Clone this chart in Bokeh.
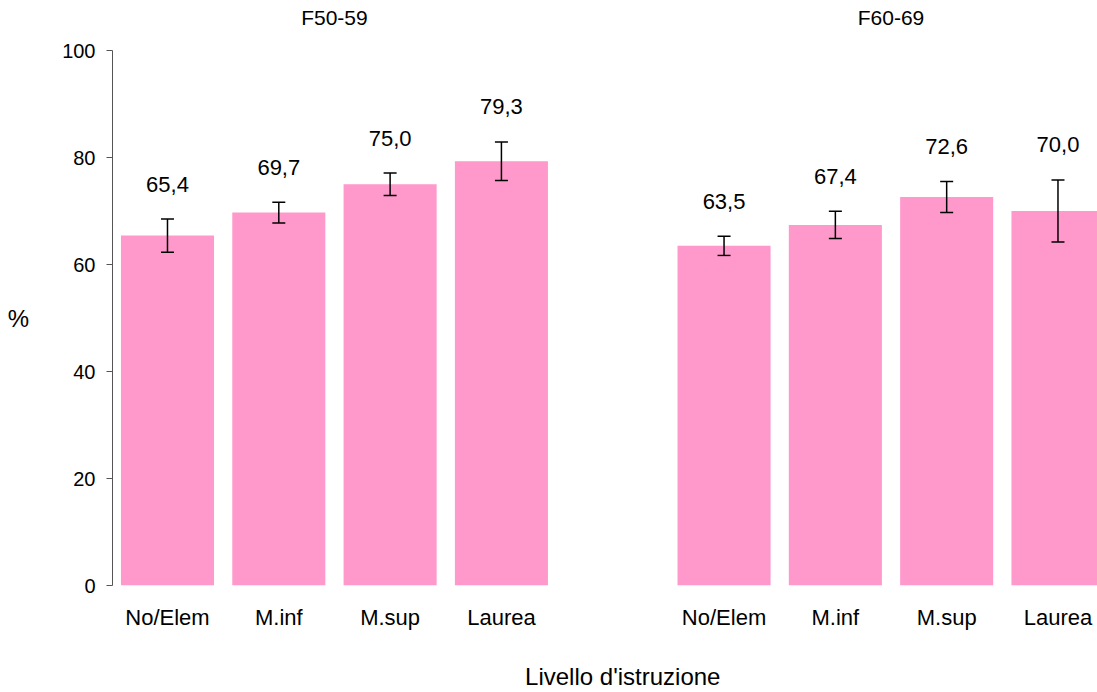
from bokeh.plotting import figure
from bokeh.models import (ColumnDataSource, Whisker, TeeHead, FixedTicker, Range1d,
                          LinearAxis)
from bokeh.core.properties import value
from bokeh.embed import file_html
from bokeh.resources import INLINE

# ---- data ----
groups = ["F50-59", "F60-69"]
categories = ["No/Elem", "M.inf", "M.sup", "Laurea"]
f50_values = [65.4, 69.7, 75.0, 79.3]
f50_err = [3.1, 1.95, 2.1, 3.6]
f60_values = [63.5, 67.4, 72.6, 70.0]
f60_err = [1.8, 2.55, 2.9, 5.8]
y_ticks = [0, 20, 40, 60, 80, 100]
x_title = "Livello d'istruzione"

FONT = "Liberation Sans"
PINK = "#FF99CC"
AXIS_GRAY = "#555555"

# positions: 4 slots per group, one empty slot between groups
n = len(categories)
xs, vals, errs, labels = [], [], [], []
for gi, (v, e) in enumerate([(f50_values, f50_err), (f60_values, f60_err)]):
    for ci in range(n):
        xs.append(gi * (n + 1) + ci)
        vals.append(v[ci])
        errs.append(e[ci])
        labels.append(categories[ci])

src = ColumnDataSource(dict(
    x=xs,
    top=vals,
    upper=[v + e for v, e in zip(vals, errs)],
    lower=[v - e for v, e in zip(vals, errs)],
    txt=[f"{v:.1f}".replace(".", ",") for v in vals],
))

p = figure(width=1097, height=692, output_backend="svg", toolbar_location=None,
           x_range=Range1d(-0.494, 8.355), y_range=Range1d(0, 100),
           min_border_left=112, min_border_right=0, min_border_top=50, min_border_bottom=107)
p.outline_line_color = None
p.xgrid.visible = False
p.ygrid.visible = False
p.background_fill_color = "white"
p.border_fill_color = "white"

p.vbar(x="x", top="top", width=0.836, bottom=0, source=src, fill_color=PINK, line_color=None)

wh = Whisker(base="x", upper="upper", lower="lower", source=src, line_color="black", line_width=1.5,
             upper_head=TeeHead(size=13, line_color="black", line_width=1.5),
             lower_head=TeeHead(size=13, line_color="black", line_width=1.5))
wh.level = "overlay"
p.add_layout(wh)

p.text(x="x", y="upper", text="txt", source=src, y_offset=-35,
       text_align="center", text_baseline="middle",
       text_font=value(FONT), text_font_size="22px", text_color="black")

def style_label_axis(ax, size, standoff):
    ax.axis_line_color = None
    ax.major_tick_line_color = None
    ax.minor_tick_line_color = None
    ax.major_label_standoff = standoff
    ax.major_label_text_font = FONT
    ax.major_label_text_font_size = size
    ax.major_label_text_color = "black"

# x axis with category labels
p.xaxis.ticker = FixedTicker(ticks=xs)
p.xaxis.major_label_overrides = {x: l for x, l in zip(xs, labels)}
style_label_axis(p.xaxis[0], "22px", 13)

# second axis below for the axis title
title_x = 4.09
ax2 = LinearAxis(ticker=FixedTicker(ticks=[title_x]),
                 major_label_overrides={title_x: x_title})
style_label_axis(ax2, "24px", 24)
p.add_layout(ax2, "below")

# group titles on an axis above
gx = [gi * (n + 1) + (n - 1) / 2 for gi in range(len(groups))]
ax_top = LinearAxis(ticker=FixedTicker(ticks=gx),
                    major_label_overrides={x: g for x, g in zip(gx, groups)})
style_label_axis(ax_top, "21px", 16)
p.add_layout(ax_top, "above")

# y axis
p.yaxis.ticker = FixedTicker(ticks=y_ticks)
p.yaxis.axis_line_color = AXIS_GRAY
p.yaxis.major_tick_line_color = AXIS_GRAY
p.yaxis.major_tick_out = 6
p.yaxis.major_tick_in = 0
p.yaxis.minor_tick_line_color = None
p.yaxis.major_label_standoff = 11
p.yaxis.major_label_text_font = FONT
p.yaxis.major_label_text_font_size = "20px"
p.yaxis.major_label_text_color = "black"
p.yaxis.axis_label = "%"
p.yaxis.axis_label_orientation = "horizontal"
p.yaxis.axis_label_standoff = 30
p.yaxis.axis_label_text_font = FONT
p.yaxis.axis_label_text_font_size = "24px"
p.yaxis.axis_label_text_font_style = "normal"
p.yaxis.axis_label_text_color = "black"

open("out.html", "w").write(file_html(p, INLINE))
